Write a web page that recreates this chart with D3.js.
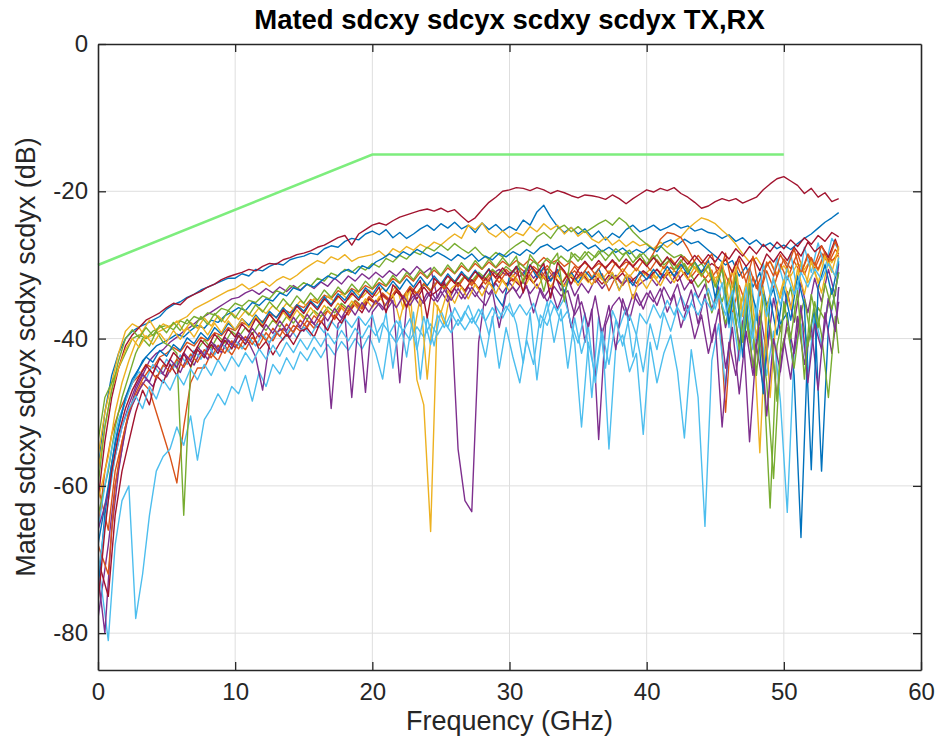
<!DOCTYPE html>
<html>
<head>
<meta charset="utf-8">
<script src="https://cdn.jsdelivr.net/npm/d3@7"></script>
<style>
  html, body { margin: 0; padding: 0; background: #fff; }
  svg { display: block; }
</style>
</head>
<body>
<svg id="svg1"></svg>
<script>
const width = 940;
const height = 746;

// frequency grids of the traces (GHz); half the sweeps are offset by a quarter step
const freqA = [0,0.5,1,1.5,2,2.5,3,3.5,4,4.5,5,5.5,6,6.5,7,7.5,8,8.5,9,9.5,
  10,10.5,11,11.5,12,12.5,13,13.5,14,14.5,15,15.5,16,16.5,17,17.5,18,18.5,19,19.5,
  20,20.5,21,21.5,22,22.5,23,23.5,24,24.5,25,25.5,26,26.5,27,27.5,28,28.5,29,29.5,
  30,30.5,31,31.5,32,32.5,33,33.5,34,34.5,35,35.5,36,36.5,37,37.5,38,38.5,39,39.5,
  40,40.5,41,41.5,42,42.5,43,43.5,44,44.5,45,45.5,46,46.5,47,47.5,48,48.5,49,49.5,
  50,50.5,51,51.5,52,52.5,53,53.5,54];
const freqB = [0,0.75,1.25,1.75,2.25,2.75,3.25,3.75,4.25,4.75,
  5.25,5.75,6.25,6.75,7.25,7.75,8.25,8.75,9.25,9.75,
  10.25,10.75,11.25,11.75,12.25,12.75,13.25,13.75,14.25,14.75,
  15.25,15.75,16.25,16.75,17.25,17.75,18.25,18.75,19.25,19.75,
  20.25,20.75,21.25,21.75,22.25,22.75,23.25,23.75,24.25,24.75,
  25.25,25.75,26.25,26.75,27.25,27.75,28.25,28.75,29.25,29.75,
  30.25,30.75,31.25,31.75,32.25,32.75,33.25,33.75,34.25,34.75,
  35.25,35.75,36.25,36.75,37.25,37.75,38.25,38.75,39.25,39.75,
  40.25,40.75,41.25,41.75,42.25,42.75,43.25,43.75,44.25,44.75,
  45.25,45.75,46.25,46.75,47.25,47.75,48.25,48.75,49.25,49.75,
  50.25,50.75,51.25,51.75,52.25,52.75,53.25,53.75,54];

// crosstalk traces (dB), one per pair, MATLAB colour order
const blue1 = [-58,-50,-45,-42,-40,-39,-38.4,-38,-37.5,-37,
  -36,-35.4,-35,-34.4,-34,-33.4,-33,-32.6,-32.2,-31.8,
  -31.8,-31.2,-31.5,-30.6,-30.8,-30.2,-29.8,-30,-29.3,-29,
  -28.8,-28.4,-28.6,-27.8,-27.4,-27.6,-26.8,-26.4,-26.6,-25.8,
  -25.4,-25.9,-25.2,-26.3,-25.6,-26.4,-25.8,-25.1,-24.6,-25.3,
  -24.4,-25,-24.2,-25.1,-24.6,-25.6,-24.3,-25.2,-24.5,-25.4,
  -24.8,-25.3,-23.9,-24.6,-22.8,-21.9,-23.5,-24.8,-25.6,-24.9,
  -25.8,-25.1,-26.2,-25.4,-26.6,-25.7,-26.3,-25.2,-24.6,-25.5,
  -25.1,-24.6,-25.3,-24.9,-24.4,-25,-24.7,-25.4,-25.1,-25.6,
  -25.8,-26.4,-25.9,-26.8,-26.3,-27.2,-26.6,-27.5,-27,-27.8,
  -27.3,-27.9,-27.1,-26.4,-25.8,-25,-24.2,-23.6,-22.9];
const orange1 = [-60,-66,-58,-54,-50,-48,-46,-47,-50,-53,
  -56,-59.6,-52,-46,-44,-44,-42,-43,-41,-42.2,
  -40.6,-41.5,-39.8,-40.9,-39.2,-40.3,-38.6,-39.7,-38.2,-39,
  -37.5,-38.6,-37,-36.2,-37.4,-35.8,-36.8,-35.2,-36,-34.6,
  -35.3,-34.2,-35,-33.6,-34.5,-33,-34.1,-32.6,-33.5,-32.3,
  -33.2,-32,-32.8,-31.6,-32.5,-31.2,-32.1,-30.8,-31.7,-30.6,
  -31.5,-30.4,-31.2,-30.2,-31,-30.1,-31.3,-30.5,-31.6,-30.8,
  -32,-30.9,-32.4,-31.2,-33.5,-31.6,-32.8,-31.4,-32.5,-31,
  -31.8,-30.6,-31.5,-30.3,-31.2,-30,-31.6,-30.4,-31.9,-30.7,
  -34,-50,-36.5,-32.8,-35.4,-31.6,-34,-30.8,-33.2,-29.9,
  -32,-29.5,-31.2,-28.8,-30.5,-28.4,-29.8,-27.9,-28.5];
const yellow1 = [-56,-50,-46,-42,-39,-38,-38.5,-40,-39.5,-39,
  -38.5,-38,-37.5,-37,-36,-35.5,-35,-34.5,-34,-33.5,
  -33.2,-32.6,-33.3,-32.8,-32.2,-32.9,-32.1,-31.6,-32,-31.4,
  -30.6,-30,-29.4,-29.8,-28.9,-29.3,-28.6,-29.5,-29,-28.8,
  -28.6,-28.1,-28.9,-27.8,-28.3,-27.5,-28,-27.2,-27.7,-26.9,
  -27.3,-26.5,-25.8,-26.4,-24.6,-25.2,-24.3,-25.6,-26.2,-25.4,
  -26.3,-25.6,-26,-24.8,-25.5,-24.4,-25.2,-24.6,-25.8,-24.9,
  -26.1,-25.4,-26.5,-27,-26.2,-27.3,-26.6,-27.5,-26.8,-27.4,
  -27.1,-27.8,-26.9,-27.6,-26.8,-26.2,-25.1,-24.3,-23.6,-23.9,
  -24.4,-25.3,-26.1,-27.2,-28.5,-29.6,-29,-30.4,-29.5,-31.2,
  -30.1,-31.5,-29.8,-30.6,-29.2,-30.8,-28.6,-29.7,-28];
const purple1 = [-78,-68,-60,-55,-50,-47,-45,-43,-42,-41.5,
  -40.5,-39.8,-39,-38.4,-37.6,-37,-36.4,-35.8,-35.2,-34.6,
  -34.4,-33.8,-33.4,-34,-33.2,-33.8,-33,-33.6,-32.8,-33.4,
  -32.6,-33.2,-32.3,-32.9,-31.8,-32.6,-31.5,-32.2,-31.2,-31.9,
  -31,-31.7,-30.8,-31.5,-30.5,-31.3,-30.2,-31.1,-30.4,-34.5,
  -32.2,-36.5,-55,-62,-63.5,-40.5,-33.5,-31.2,-30.6,-31.4,
  -30.8,-31.6,-30.5,-31.8,-30.7,-32,-31,-33.5,-31.8,-34.2,
  -32.5,-33.8,-31.9,-33.2,-32,-31.4,-32.6,-31.8,-33,-32.2,
  -31.6,-32.8,-31.3,-32.5,-31,-33.4,-32,-34.5,-32.6,-36,
  -33,-38.5,-34.2,-41,-35,-44,-36.2,-42,-34.5,-39,
  -33.6,-37.8,-32.4,-36.5,-31.8,-35,-30.6,-34.2,-29.8];
const green1 = [-54,-48,-46,-44,-42,-40,-39.5,-40,-39,-38.5,
  -38.2,-38.8,-37.6,-38,-37,-37.4,-36.5,-36.8,-35.9,-36.2,
  -35.2,-35.6,-34.8,-35.1,-34.2,-34.6,-33.5,-33.9,-32.8,-33.2,
  -32.4,-32.9,-31.8,-32.2,-31.1,-31.5,-30.6,-31,-30.2,-30.7,
  -29.8,-30.3,-29.1,-29.6,-28.7,-29.2,-28.2,-28.6,-27.6,-28.1,
  -27.3,-28,-27.1,-27.8,-28.4,-27.6,-28.6,-29.2,-28.3,-28.9,
  -28,-27.3,-26.7,-27.4,-26.2,-25.6,-26.4,-25.1,-24.6,-25.5,
  -24.8,-25.6,-25,-24.4,-23.9,-24.6,-23.6,-24.3,-25.5,-26.4,
  -27.2,-28,-27.4,-28.3,-29,-28.6,-29.4,-30.5,-29.8,-31.2,
  -32.5,-35,-31.8,-38,-34.2,-40.5,-36,-44,-63,-41,
  -36.5,-33,-38.5,-34.6,-40.2,-35.8,-37.5,-33.2,-38];
const lightblue1 = [-70,-81,-68,-62,-60,-78,-72,-64,-58,-56,
  -55,-52,-54.5,-50.5,-56.5,-51,-49.5,-47.5,-49,-46.5,
  -47.5,-45,-48.5,-44.5,-46.5,-43.5,-44.8,-42.6,-44.2,-41.8,
  -43,-41.2,-42.6,-40.8,-42.2,-40.4,-41.6,-40,-41.4,-39.6,
  -42,-45.5,-39.2,-40.6,-38.8,-40.2,-38.4,-39.8,-38,-39.5,
  -37.8,-39.2,-37.4,-38.8,-37.2,-38.6,-42.5,-37,-44,-38.5,
  -42.5,-46,-40.2,-43.5,-36.8,-38.2,-35.5,-37.6,-36.2,-40.5,
  -52,-40.5,-45,-38.6,-55,-41,-39.5,-44.5,-42,-53,
  -40.5,-46,-42,-39.5,-44.5,-53.5,-41.5,-48,-65.5,-43,
  -38,-46.5,-36.5,-43,-35,-41.5,-37.5,-45,-39,-48.5,
  -63.6,-42,-38,-45,-36.5,-41,-34.5,-39,-33];
const darkred1 = [-62,-54,-48,-44,-41,-39.5,-38.5,-37.5,-37,-36.5,
  -35.8,-35.2,-35.4,-34.5,-34,-33.6,-33,-32.6,-32,-31.6,
  -31.3,-31,-30.6,-30.8,-30.2,-29.8,-29.9,-29.3,-29,-28.6,
  -28.4,-28.1,-27.6,-27.3,-26.8,-26.3,-26,-27.3,-25.8,-25.2,
  -24.6,-24.3,-24.6,-24,-23.5,-23.2,-22.9,-22.6,-22.4,-22.7,
  -22.3,-22.8,-22.5,-23.4,-24.2,-23.6,-22.5,-21.5,-20.8,-20,
  -19.8,-19.5,-19.6,-19.9,-19.5,-19.8,-20.3,-19.9,-20.2,-20.6,
  -20.9,-20.5,-20.6,-20.8,-21.1,-20.5,-21,-21.7,-21,-20.4,
  -19.8,-20.1,-19.6,-19.9,-19.5,-20.3,-20.8,-21.5,-22.3,-22,
  -21.4,-21,-21.3,-21,-21.6,-21.2,-20.8,-19.8,-19,-18.3,
  -18,-18.6,-19.2,-20.3,-19.6,-20.8,-20.2,-21.4,-21];
const blue2 = [-68,-60,-54,-50,-47,-45,-43,-42,-41,-40.5,
  -40,-39.4,-39.8,-38.9,-38.2,-38.6,-37.5,-37.8,-36.9,-36.4,
  -35.8,-36.2,-35.1,-35.5,-34.6,-34.9,-33.8,-34.2,-33.1,-33.5,
  -32.6,-33,-32.2,-31.5,-31.9,-31,-30.6,-31.2,-30.1,-30.5,
  -29.6,-29.1,-28.5,-29,-28.2,-28.7,-27.9,-28.4,-28.9,-28.3,
  -28.8,-29.4,-28.6,-29.2,-28.5,-29.5,-28.8,-29.3,-28.4,-28.9,
  -28.2,-28.7,-27.9,-28.5,-27.6,-27.2,-27.9,-27.4,-28.1,-27.5,
  -27,-27.8,-27.3,-28.2,-27.6,-28.3,-27.7,-28.5,-27.9,-28.4,
  -27.6,-28.2,-27,-26.6,-27.3,-26.5,-27.1,-26.8,-27.6,-28.4,
  -29.2,-30,-29.4,-31.5,-30.2,-33,-31,-35.5,-33.2,-38,
  -36.5,-45,-67,-40.5,-36,-58,-38.5,-33.5,-31];
const orange2 = [-66,-58,-53,-50,-48,-46,-45,-43.5,-44,-42.5,
  -42,-41.2,-41.8,-40.5,-41,-39.8,-40.3,-39.2,-39.6,-38.5,
  -38.9,-37.8,-38.3,-37.2,-37.7,-36.6,-37.1,-36,-36.5,-35.4,
  -35.8,-34.7,-35.2,-34.1,-34.6,-33.5,-34,-33.2,-33.7,-32.8,
  -33.3,-32.4,-32.9,-31.8,-32.5,-31.4,-32.2,-31,-31.8,-30.7,
  -31.5,-30.4,-31.2,-30.1,-30.9,-29.8,-30.6,-29.6,-30.4,-29.5,
  -30.2,-29.4,-30.1,-29.2,-29.9,-29,-29.8,-29.3,-30.2,-29.5,
  -30.4,-29.7,-30.6,-29.8,-30.3,-29.5,-30.4,-29.6,-30.1,-29.2,
  -30,-28.4,-26.5,-25.6,-25.8,-26.3,-27.8,-29.6,-31.2,-32.4,
  -31,-30.2,-32.5,-29.6,-31.8,-30.4,-33.2,-30.8,-29.5,-31.6,
  -29.2,-30.5,-28.4,-31.3,-29,-30.6,-28.2,-29.4,-28.6];
const yellow2 = [-62,-56,-50,-46,-43,-40.5,-39,-37.5,-39,-38,
  -38.5,-37.6,-39,-37.8,-38.6,-37.2,-38.3,-36.9,-37.8,-36.5,
  -37.4,-36.2,-37,-35.8,-36.6,-35.5,-36.4,-35.2,-36,-34.9,
  -35.6,-34.6,-35.3,-34.2,-35,-33.9,-34.7,-33.6,-34.4,-33.4,
  -34.2,-33.1,-34,-32.8,-36,-33.2,-45.6,-49,-66.2,-35.5,
  -38,-33.2,-32.4,-33.5,-32.1,-33.3,-31.9,-33,-31.6,-32.8,
  -31.4,-32.6,-31.2,-32.4,-31,-32.2,-31.5,-32.6,-31.1,-32.3,
  -31.3,-32.4,-31,-32,-30.8,-31.8,-30.5,-31.6,-30.4,-31.5,
  -30.6,-31.8,-30.2,-31.5,-30,-31.3,-29.8,-31,-30.5,-32,
  -31.5,-34,-30.6,-36.5,-32.4,-38,-55.5,-36,-31.8,-34.5,
  -30.2,-33.5,-29.6,-32.4,-30.8,-33.8,-29.4,-31.6,-28.8];
const purple2 = [-72,-80,-66,-58,-52,-49,-47,-45.5,-46.5,-44.5,
  -45.2,-43.4,-44.6,-42.5,-43.6,-41.6,-42.8,-40.8,-41.9,-40.2,
  -41.2,-39.8,-40.6,-42.5,-47,-40.5,-39.2,-38.6,-39.8,-38.2,
  -39,-37.6,-38.5,-37.2,-49.5,-38,-36.8,-48,-37.2,-47.3,
  -36.4,-35.2,-36.2,-34.8,-46,-35.4,-34.2,-35.6,-33.8,-34.9,
  -33.6,-35,-33.2,-34.6,-33,-34.3,-32.8,-34,-32.5,-33.8,
  -32.4,-33.6,-32.2,-33.9,-32.6,-34.5,-33,-36,-33.4,-38.5,
  -34,-40.5,-36,-53.7,-38.2,-35.6,-34.4,-36.8,-34,-35.5,
  -33.8,-35,-33.2,-36.4,-34,-38.5,-35.5,-40,-36.8,-42,
  -38,-52,-40.5,-45,-37.6,-54,-41,-46.5,-38.2,-48,
  -40,-45.5,-37,-43.5,-38.4,-47,-36.5,-42,-35];
const green2 = [-64,-58,-52,-48,-45,-42,-40,-41,-39,-40.5,
  -41,-42,-64,-44,-41.5,-40.2,-41.3,-39.6,-40.6,-39,
  -39.8,-38.5,-39.4,-38,-38.9,-37.5,-38.4,-37,-37.9,-36.6,
  -37.4,-36.2,-37,-35.7,-36.5,-35.2,-36,-34.8,-35.6,-34.4,
  -35.1,-33.9,-34.7,-33.5,-34.3,-33,-33.8,-32.6,-33.4,-32.2,
  -33,-31.8,-32.6,-31.4,-32.2,-31,-31.8,-30.6,-31.4,-30.2,
  -31,-29.8,-30.6,-29.5,-30.2,-29.1,-29.9,-28.8,-29.6,-28.5,
  -29.3,-28.2,-29,-28,-28.8,-27.8,-28.6,-28,-29.2,-28.4,
  -29.5,-28.6,-30,-29.2,-30.6,-29.8,-31.4,-33,-31.8,-36.5,
  -33.5,-38,-34,-41.5,-36,-44,-38.5,-46,-59,-42,
  -38.5,-44,-36.5,-41,-35,-39.5,-48,-37,-42];
const lightblue2 = [-66,-60,-55,-51,-48.5,-46,-44.5,-45.5,-43.5,-44.8,
  -42.8,-44,-42.2,-43.5,-41.6,-42.8,-41,-42.2,-40.6,-41.8,
  -40.2,-41.4,-39.8,-41,-39.4,-40.6,-39,-40.2,-38.6,-39.9,
  -38.4,-39.6,-38,-39.2,-37.6,-38.8,-37.3,-38.5,-37,-38.2,
  -36.8,-40.5,-36.5,-44,-37.2,-42.5,-36.4,-45.5,-37,-41,
  -36.2,-38.5,-35.8,-37.6,-35.5,-38,-36,-39.5,-35.6,-37.2,
  -35.2,-38,-43.3,-36.5,-45.6,-37.8,-34.8,-36.2,-34.5,-38,
  -40.6,-36.5,-48,-37,-44,-36.2,-38.5,-35.8,-42.5,-36.6,
  -38,-35.4,-37.2,-34.8,-36.8,-34.2,-36.4,-33.8,-35.6,-33.2,
  -36,-32.4,-38.5,-31.8,-40,-30.6,-37.5,-29.8,-34,-29,
  -32.5,-28.4,-33.8,-27.6,-31,-27,-30.5,-26.4,-28];
const darkred2 = [-70,-75,-64,-58,-54,-50,-47,-49,-45,-46,
  -43.5,-45,-42,-43.8,-41.5,-42.6,-40.8,-42,-40.2,-41.4,
  -39.6,-40.8,-39.2,-41.5,-40.4,-42.2,-40.6,-39.4,-40.8,-39,
  -38.6,-39.8,-37.6,-38.9,-36.8,-37.9,-36.2,-35.4,-36.5,-34.6,
  -35.2,-34,-34.8,-33.6,-34.5,-33.2,-34.6,-33,-34.2,-33.5,
  -32.6,-33.8,-32.4,-33.5,-32,-33.2,-31.8,-32.9,-31.5,-32.6,
  -31.9,-32.8,-31.4,-32.5,-31.2,-32.3,-31.6,-32.7,-31.3,-32.1,
  -31,-32.2,-31.5,-32.6,-31.4,-32,-31.1,-32.4,-31.6,-30.8,
  -31.5,-30.6,-31.8,-30.9,-32.2,-31,-32.5,-31.3,-30.6,-29.8,
  -30.5,-29.2,-31,-28.8,-30.2,-29,-30.8,-28.5,-29.6,-28.2,
  -29.4,-27.6,-28.8,-26.9,-28.2,-27.4,-29,-26.5,-27.8];
const blue3 = [-74,-64,-57,-52,-48,-45.5,-44,-42.5,-43.2,-41.6,
  -42.4,-40.8,-41.6,-39.9,-40.7,-39.2,-40.1,-38.5,-39.4,-37.9,
  -38.8,-37.3,-38.2,-36.8,-37.9,-36.3,-37.2,-35.8,-36.9,-35.4,
  -36.3,-34.9,-35.8,-34.3,-35.4,-33.9,-34.8,-33.4,-34.5,-33.1,
  -34,-32.6,-33.6,-32.2,-33.3,-31.9,-33,-31.6,-32.8,-31.5,
  -32.6,-31.2,-32.3,-30.9,-32,-30.7,-31.8,-30.5,-34.2,-35.6,
  -31.6,-30.2,-31.4,-30,-31.7,-30.3,-32.2,-30.6,-33.8,-31,
  -32.4,-30.8,-31.9,-30.5,-32.6,-31.1,-33.4,-31.5,-32.8,-30.9,
  -32,-30.6,-31.8,-30.2,-31.5,-29.9,-31.3,-29.6,-31,-29.4,
  -34.5,-30,-38,-31.5,-42.5,-33,-36,-47.5,-34.5,-39.5,
  -33,-37.5,-31.5,-35.5,-57.8,-33,-30,-34,-29.5];
const orange3 = [-68,-72,-60,-54,-50,-47.5,-45.5,-44.2,-45.4,-43.6,
  -44.5,-42.8,-43.9,-42.1,-43.2,-41.5,-42.6,-40.9,-42,-40.3,
  -41.4,-39.7,-40.8,-39.2,-40.3,-38.6,-39.7,-38,-39.2,-37.5,
  -38.5,-36.9,-37.8,-36.2,-37.1,-35.5,-36.4,-34.9,-35.8,-34.3,
  -35.2,-33.8,-34.7,-33.3,-34.3,-32.9,-33.9,-32.5,-33.6,-32.2,
  -33.3,-31.9,-33,-31.6,-32.8,-31.4,-32.6,-31.2,-32.4,-31,
  -32.2,-30.8,-32,-30.6,-31.9,-30.5,-31.8,-30.3,-31.6,-30.2,
  -31.5,-30.1,-31.3,-29.9,-31.2,-29.7,-31,-29.6,-30.8,-29.4,
  -30.7,-29.3,-30.5,-29.1,-30.3,-28.9,-30.1,-28.7,-29.9,-28.5,
  -31.8,-28.4,-33,-29.2,-32.4,-28.8,-34.2,-29.6,-31.5,-28.6,
  -30.4,-27.8,-31.2,-28.5,-30,-27.4,-29.5,-26.8,-28];
const yellow3 = [-58,-52,-47,-44,-41.5,-40,-41.2,-39.6,-40.8,-39.3,
  -40.5,-38.9,-40.1,-38.5,-39.8,-38.2,-39.5,-37.9,-39.2,-37.6,
  -38.8,-37.3,-38.5,-37,-38.2,-36.7,-37.9,-36.4,-37.6,-36.1,
  -37.3,-35.8,-37,-35.5,-36.7,-35.2,-36.4,-34.9,-36.1,-34.6,
  -35.8,-34.3,-35.5,-34,-37.5,-33.7,-39.5,-34.2,-45.5,-35,
  -36.5,-33.5,-35.2,-33,-34.6,-32.6,-34.2,-32.3,-33.9,-32,
  -33.6,-31.8,-33.4,-31.6,-33.2,-31.5,-33,-31.4,-32.9,-31.3,
  -32.8,-31.2,-32.7,-31.1,-32.6,-31,-33.5,-31.3,-34.6,-31.8,
  -33.2,-31.5,-32.8,-31,-32.4,-30.6,-32,-30.2,-31.6,-29.8,
  -32.5,-29.5,-35,-30.2,-37,-31.5,-40,-33,-48,-35.5,
  -32,-36,-30.5,-34,-29.5,-32.5,-28.8,-31,-27.5];
const purple3 = [-66,-61,-56,-52,-49,-46.5,-44.8,-45.9,-43.6,-44.7,
  -42.8,-43.9,-41.9,-43,-41.1,-42.3,-40.4,-41.6,-39.8,-40.9,
  -39.2,-40.3,-38.6,-39.8,-38.1,-39.3,-37.6,-38.9,-37.1,-38.4,
  -36.7,-38,-36.3,-37.6,-35.9,-37.2,-35.5,-36.8,-35.1,-36.4,
  -34.8,-36.1,-34.5,-35.8,-34.2,-35.5,-33.9,-35.2,-33.6,-35,
  -33.4,-34.8,-33.2,-34.6,-33,-34.4,-35.5,-33.5,-38.5,-34,
  -33,-34.5,-32.8,-36.5,-33.2,-35,-32.9,-34.2,-33.5,-36.8,
  -35,-38.5,-34.2,-39.5,-35.5,-41.5,-34.6,-37.5,-33.8,-36,
  -33.5,-35.5,-33,-34.8,-32.6,-36.2,-33.4,-38,-34,-40.5,
  -36,-44,-38.5,-47.5,-39,-45,-37,-50.5,-40,-44.5,
  -37.5,-42,-35.5,-46,-38,-41.5,-34.5,-39,-33];
const green3 = [-60,-52,-47,-43,-40,-38.8,-39.9,-38.5,-39.6,-38.2,
  -39.2,-37.8,-38.9,-37.4,-38.5,-37,-38.1,-36.6,-37.7,-36.2,
  -37.2,-35.8,-36.8,-35.4,-36.4,-35,-36,-34.6,-35.6,-34.2,
  -35.2,-33.8,-34.8,-33.4,-34.4,-33,-34,-32.6,-33.6,-32.2,
  -33.2,-31.8,-32.8,-31.4,-32.4,-31,-32,-30.6,-31.7,-30.3,
  -31.4,-30,-31.1,-29.7,-30.8,-29.4,-30.5,-29.2,-30.3,-29,
  -30.1,-28.8,-32.5,-28.6,-29.8,-33.6,-29.7,-28.4,-35,-28.3,
  -29.5,-28.2,-29.4,-28.1,-29.4,-28.2,-29.5,-28.3,-29.7,-28.5,
  -29.9,-28.7,-30.2,-29,-30.6,-29.3,-31,-29.7,-31.5,-30.1,
  -33,-30.6,-36.5,-31.4,-40.5,-32.5,-45,-34,-38,-48.5,
  -35,-40,-33.5,-45.5,-34,-38.5,-32.5,-36,-31];
const lightblue3 = [-72,-62,-56,-52,-49.5,-47.8,-49.5,-46.5,-48.2,-45.6,
  -47,-44.8,-46.3,-44.1,-45.6,-43.5,-45,-42.9,-44.4,-42.4,
  -43.8,-41.9,-43.3,-41.4,-42.8,-40.9,-42.4,-40.5,-41.9,-40.1,
  -41.5,-39.7,-41.1,-39.3,-40.7,-38.9,-40.3,-38.6,-39.9,-38.2,
  -39.6,-37.9,-39.3,-37.6,-39,-37.3,-41.5,-37,-40.8,-36.8,
  -38.5,-36.5,-38.2,-36.3,-37.9,-36,-37.6,-35.8,-37.3,-35.6,
  -37,-35.4,-36.8,-35.2,-38.5,-35,-40.5,-36,-44,-37.2,
  -42,-38.5,-46,-39,-43.5,-37.5,-41,-36.8,-39.5,-44.5,
  -38,-41.5,-36.5,-39,-35.8,-37.5,-35.2,-36.8,-34.6,-36.2,
  -34,-36.8,-33.5,-38.5,-33,-40,-32.5,-37,-32,-35.5,
  -31.5,-34,-31,-33,-30.5,-32,-29.8,-31.5,-29];
const darkred3 = [-76,-66,-58,-53,-49.5,-47,-45.2,-43.6,-44.8,-42.7,
  -43.8,-41.9,-42.9,-41,-42,-40.2,-41.2,-39.4,-40.5,-38.7,
  -39.8,-38,-39.1,-37.3,-38.4,-36.7,-37.8,-36.1,-37.2,-35.6,
  -36.6,-35.1,-36.1,-34.6,-35.6,-34.2,-35.2,-33.8,-34.8,-33.4,
  -34.4,-33,-36.5,-32.7,-33.7,-35.8,-33.4,-32.1,-37.2,-31.8,
  -32.8,-31.5,-32.5,-31.2,-32.2,-30.9,-31.9,-30.6,-31.7,-30.4,
  -31.5,-30.2,-33.8,-30,-31.1,-29.8,-34.5,-29.7,-30.8,-32.6,
  -30.7,-29.5,-30.6,-29.4,-30.5,-29.3,-30.4,-29.2,-30.3,-29.1,
  -30.2,-29,-30.1,-28.9,-30,-28.8,-29.9,-28.7,-29.8,-28.6,
  -29.6,-28.2,-29.2,-27.8,-28.8,-27.5,-28.5,-27.2,-28.2,-26.9,
  -27.8,-26.6,-27.5,-26.3,-27.2,-26,-26.8,-25.6,-26.2];

// spec limit line
const limitFreq = [0, 20, 50];
const limitDb = [-30, -15, -15];

// axis ticks
const xTicks = [0, 10, 20, 30, 40, 50, 60];
const yTicks = [-80, -60, -40, -20, 0];

const title = "Mated sdcxy sdcyx scdxy scdyx TX,RX";
const xLabel = "Frequency (GHz)";
const yLabel = "Mated sdcxy sdcyx scdxy scdyx (dB)";

const colors = ["#0072BD", "#D95319", "#EDB120", "#7E2F8E", "#77AC30", "#4DBEEE", "#A2142F"];
const traces = [blue1, orange1, yellow1, purple1, green1, lightblue1, darkred1,
  blue2, orange2, yellow2, purple2, green2, lightblue2, darkred2,
  blue3, orange3, yellow3, purple3, green3, lightblue3, darkred3];
const series = traces.map((values, i) => ({
  values,
  freq: i % 2 ? freqB : freqA,
  color: colors[i % colors.length]
}));
series.forEach((s, i) => {
  if (s.values.length !== s.freq.length) console.error("series " + i + " has " + s.values.length + " points");
});

const margin = {left: 98, right: 19, top: 44, bottom: 76};

const svg = d3.select("#svg1")
    .attr("width", width)
    .attr("height", height)
    .attr("viewBox", [0, 0, width, height])
    .style("font-family", "'Liberation Sans', Arial, sans-serif");

const x = d3.scaleLinear()
    .domain([0, 60])
    .range([margin.left, width - margin.right]);
const y = d3.scaleLinear()
    .domain([-85, 0])
    .range([height - margin.bottom, margin.top]);

// grid
svg.append("g")
    .attr("stroke", "#dedede")
    .attr("stroke-width", 1)
    .call(g => g.selectAll("line.v")
        .data(xTicks.slice(1, -1))
        .join("line")
        .attr("class", "v")
        .attr("x1", d => x(d)).attr("x2", d => x(d))
        .attr("y1", y(-85)).attr("y2", y(0)))
    .call(g => g.selectAll("line.h")
        .data(yTicks.slice(0, -1))
        .join("line")
        .attr("class", "h")
        .attr("x1", x(0)).attr("x2", x(60))
        .attr("y1", d => y(d)).attr("y2", d => y(d)));

svg.append("clipPath")
    .attr("id", "plotclip")
    .append("rect")
    .attr("x", x(0)).attr("y", y(0))
    .attr("width", x(60) - x(0))
    .attr("height", y(-85) - y(0));

svg.append("g")
    .attr("clip-path", "url(#plotclip)")
    .attr("fill", "none")
    .attr("stroke-width", 1.4)
    .attr("stroke-linejoin", "round")
    .selectAll("path")
    .data(series)
    .join("path")
    .attr("stroke", d => d.color)
    .attr("d", d => d3.line()
        .x((v, i) => x(d.freq[i]))
        .y(v => y(v))(d.values));

svg.append("path")
    .attr("fill", "none")
    .attr("stroke", "#7ded7d")
    .attr("stroke-width", 2.6)
    .attr("d", d3.line().x(d => x(d[0])).y(d => y(d[1]))(d3.zip(limitFreq, limitDb)));

// axes, MATLAB box style with inward ticks
const axisColor = "#262626";
const styleAxis = g => {
  g.attr("font-family", null).attr("font-size", null);
  g.select(".domain").attr("stroke", axisColor).attr("stroke-width", 1.6);
  g.selectAll(".tick line").attr("stroke", axisColor).attr("stroke-width", 1.3);
  g.selectAll(".tick text").attr("fill", axisColor).style("font-size", "24px");
};

svg.append("g")
    .attr("transform", `translate(0,${y(-85)})`)
    .call(d3.axisBottom(x).tickValues(xTicks).tickFormat(d => String(d))
        .tickSizeInner(-8).tickSizeOuter(0).tickPadding(13))
    .call(styleAxis);
svg.append("g")
    .attr("transform", `translate(0,${y(0)})`)
    .call(d3.axisTop(x).tickValues(xTicks.slice(1, -1)).tickSizeInner(-8).tickSizeOuter(0).tickFormat(""))
    .call(styleAxis);
svg.append("g")
    .attr("transform", `translate(${x(0)},0)`)
    .call(d3.axisLeft(y).tickValues(yTicks).tickFormat(d => String(d))
        .tickSizeInner(-8).tickSizeOuter(0).tickPadding(10))
    .call(styleAxis);
svg.append("g")
    .attr("transform", `translate(${x(60)},0)`)
    .call(d3.axisRight(y).tickValues(yTicks.slice(0, -1)).tickSizeInner(-8).tickSizeOuter(0).tickFormat(""))
    .call(styleAxis);

svg.append("text")
    .attr("x", (x(0) + x(60)) / 2)
    .attr("y", 29)
    .attr("text-anchor", "middle")
    .attr("fill", "#000")
    .style("font-size", "27.5px")
    .style("font-weight", "bold")
    .text(title);

svg.append("text")
    .attr("x", (x(0) + x(60)) / 2)
    .attr("y", 730)
    .attr("text-anchor", "middle")
    .attr("fill", axisColor)
    .style("font-size", "27px")
    .text(xLabel);

svg.append("text")
    .attr("transform", `translate(35,${(y(0) + y(-85)) / 2}) rotate(-90)`)
    .attr("text-anchor", "middle")
    .attr("fill", axisColor)
    .style("font-size", "27px")
    .text(yLabel);
</script>
</body>
</html>
